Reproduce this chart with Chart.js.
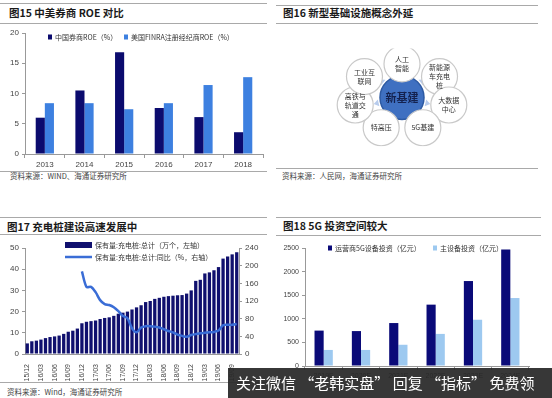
<!DOCTYPE html>
<html>
<head>
<meta charset="utf-8">
<script src="https://cdn.jsdelivr.net/npm/chart.js@4.4.1/dist/chart.umd.min.js"></script>
<style>
  body { margin: 0; width: 552px; height: 398px; background: #fff; position: relative; overflow: hidden; font-family: "Noto Sans CJK SC", sans-serif; }
  canvas { position: absolute; }
  .rule { position: absolute; height: 0; border-top: 1.5px solid #a9a9a9; }
  .title { position: absolute; font-size: 10.5px; font-weight: bold; color: #1a1a1a; white-space: nowrap; line-height: 1; }
  .src { position: absolute; font-size: 7.5px; color: #444; white-space: nowrap; line-height: 1; }
  #banner { position: absolute; left: 228px; top: 368px; width: 324px; height: 30px; background: rgba(40,40,40,0.93); color: #fff; font-size: 15px; line-height: 30px; padding-left: 8px; box-sizing: border-box; white-space: nowrap; }
</style>
</head>
<body>

<div class="rule" style="left:0;top:3px;width:267px"></div>
<div class="title" style="left:9px;top:8px">图15 中美券商 ROE 对比</div>
<div class="rule" style="left:0;top:23px;width:267px"></div>
<div class="rule" style="left:0;top:171px;width:267px"></div>
<div class="src" style="left:10px;top:172px">资料来源：WIND、海通证券研究所</div>

<div class="rule" style="left:276px;top:5px;width:262px"></div>
<div class="title" style="left:283px;top:8px">图16 新型基础设施概念外延</div>
<div class="rule" style="left:276px;top:23px;width:262px"></div>
<div class="rule" style="left:276px;top:168px;width:262px"></div>
<div class="src" style="left:282px;top:172px">资料来源：人民网，海通证券研究所</div>

<div class="rule" style="left:0;top:217px;width:267px"></div>
<div class="title" style="left:7px;top:222px">图17 充电桩建设高速发展中</div>
<div class="rule" style="left:0;top:234px;width:267px"></div>
<div class="rule" style="left:0;top:382px;width:267px"></div>
<div class="src" style="left:7px;top:388px">资料来源：Wind，海通证券研究所</div>

<div class="rule" style="left:276px;top:217px;width:265px"></div>
<div class="title" style="left:283px;top:221px">图18 5G 投资空间较大</div>
<div class="rule" style="left:276px;top:235px;width:265px"></div>

<canvas id="roeChart" width="270" height="150" style="left:0;top:25px"></canvas>
<canvas id="conceptChart" width="262" height="145" style="left:276px;top:25px"></canvas>
<canvas id="pileChart" width="270" height="150" style="left:0;top:235px"></canvas>
<canvas id="fiveGChart" width="270" height="150" style="left:276px;top:235px"></canvas>

<div id="banner">关注微信 “老韩实盘” 回复 “指标” 免费领</div>

<script>
// fig 15
var roeYears = ['2013', '2014', '2015', '2016', '2017', '2018'];
var roeChina = [6.0, 10.5, 16.8, 7.6, 6.1, 3.6];
var roeUS = [8.4, 8.4, 7.4, 8.4, 11.4, 12.7];

// fig 16
var hubLabel = '新基建';
var conceptNodes = ['人工\n智能', '新能源\n车充电\n桩', '大数据\n中心', '5G基建', '特高压', '高铁与\n轨道交\n通', '工业互\n联网'];

// fig 17
var pileMonths = ['15/12',
    '16/01', '16/02', '16/03', '16/04', '16/05', '16/06', '16/07', '16/08', '16/09', '16/10', '16/11', '16/12',
    '17/01', '17/02', '17/03', '17/04', '17/05', '17/06', '17/07', '17/08', '17/09', '17/10', '17/11', '17/12',
    '18/01', '18/02', '18/03', '18/04', '18/05', '18/06', '18/07', '18/08', '18/09', '18/10', '18/11', '18/12',
    '19/01', '19/02', '19/03', '19/04', '19/05', '19/06', '19/07', '19/08', '19/09', '19/10'];
var pileTotal = [5.0,
    6.0, 6.3, 6.8, 7.5, 8.0, 8.3, 8.7, 9.5, 10.5, 11.0, 12.0, 14.5,
    15.2, 15.5, 15.8, 16.5, 17.0, 17.3, 18.0, 19.0, 19.5, 20.0, 21.0, 22.0,
    23.0, 24.5, 25.0, 26.0, 26.5, 27.0, 27.3, 27.5, 27.7, 27.8, 28.5, 30.0,
    34.5, 35.0, 38.0, 38.5, 39.5, 41.0, 45.0, 46.0, 47.0, 48.0];
var pileYoY = [null,
    null, null, null, null, null, null, null, null, null, null, null, 187,
    152, 152, 140, 122, 113, 111, 106, 97, 86, 81, 58, 49,
    60, 63, 63, 62, 60, 56, 52, 49, 44, 41, 39, 43,
    45, 47, 48, 49, 50, 53, 65, 66, 66, 68];

// fig 18
var invYears = ['2019E', '2020E', '2021E', '2022E', '2023E', '2024E'];
var invOperator = [750, 740, 910, 1300, 1800, 2470];
var invMainGear = [340, 340, 450, 680, 980, 1440];

Chart.defaults.animation = false;
Chart.defaults.font.family = '"Liberation Sans", Arial, sans-serif';
Chart.defaults.font.size = 8;
Chart.defaults.color = '#444';

var innerLegend = {
    id: 'innerLegend',
    afterDraw: function (chart, args, opts) {
        var ctx = chart.ctx;
        var sets = chart.data.datasets;
        ctx.save();
        ctx.font = opts.font;
        ctx.textBaseline = 'middle';
        for (var i = 0; i < sets.length; i++) {
            var p = opts.spots[i];
            if (sets[i].type === 'line') {
                ctx.strokeStyle = sets[i].borderColor;
                ctx.lineWidth = 2.5;
                ctx.beginPath();
                ctx.moveTo(p[0], p[1]);
                ctx.lineTo(p[0] + opts.boxW, p[1]);
                ctx.stroke();
            } else {
                ctx.fillStyle = sets[i].backgroundColor;
                ctx.fillRect(p[0], p[1] - opts.boxH / 2, opts.boxW, opts.boxH);
            }
            ctx.fillStyle = '#333';
            ctx.fillText(sets[i].label, p[0] + opts.boxW + 3, p[1]);
        }
        ctx.restore();
    }
};

function fixWidth(w) {
    return function (scale) { scale.width = w; };
}
function fixHeight(h) {
    return function (scale) { scale.height = h; };
}
function plainNum(v) {
    return String(v);
}

// ---------- fig 15 ----------
new Chart(document.getElementById('roeChart'), {
    type: 'bar',
    data: {
        labels: roeYears,
        datasets: [
            { label: '中国券商ROE（%）', data: roeChina, backgroundColor: '#0b0b6e' },
            { label: '美国FINRA注册经纪商ROE（%）', data: roeUS, backgroundColor: '#3d80e0' }
        ]
    },
    options: {
        responsive: false,
        events: [],
        layout: { padding: { top: 8, right: 7, left: 0, bottom: 0 } },
        datasets: { bar: { categoryPercentage: 0.46, barPercentage: 1 } },
        scales: {
            x: {
                afterFit: fixHeight(21),
                grid: { display: true, drawOnChartArea: false, tickLength: 4, color: '#999' },
                border: { color: '#999' },
                ticks: { padding: 2, font: { size: 8 } }
            },
            y: {
                min: 0, max: 20,
                afterFit: fixWidth(25),
                grid: { display: true, drawOnChartArea: false, tickLength: 3, color: '#999' },
                border: { color: '#999' },
                ticks: { stepSize: 5, padding: 3, font: { size: 8 }, callback: plainNum }
            }
        },
        plugins: {
            legend: { display: false },
            tooltip: { enabled: false },
            innerLegend: { font: '7px "Noto Sans CJK SC"', boxW: 4, boxH: 5, spots: [[48, 12], [124, 12]] }
        }
    },
    plugins: [innerLegend]
});

// ---------- fig 16 ----------
var spokes = {
    id: 'spokes',
    beforeDatasetsDraw: function (chart) {
        var ctx = chart.ctx;
        var cx = chart.scales.x.getPixelForValue(0);
        var cy = chart.scales.y.getPixelForValue(0);
        ctx.save();
        ctx.fillStyle = '#b7cbec';
        for (var i = 0; i < conceptNodes.length; i++) {
            var a = Math.PI / 2 - i * 2 * Math.PI / conceptNodes.length;
            var dx = Math.cos(a), dy = -Math.sin(a);
            var r0 = 24, r1 = 29;
            ctx.beginPath();
            ctx.moveTo(cx + dx * r1, cy + dy * r1);
            ctx.lineTo(cx + dx * r0 - dy * 3.5, cy + dy * r0 + dx * 3.5);
            ctx.lineTo(cx + dx * r0 + dy * 3.5, cy + dy * r0 - dx * 3.5);
            ctx.closePath();
            ctx.fill();
        }
        ctx.restore();
    }
};

var nodeText = {
    id: 'nodeText',
    afterDatasetsDraw: function (chart) {
        var ctx = chart.ctx;
        var pts = chart.getDatasetMeta(0).data;
        ctx.save();
        ctx.textAlign = 'center';
        ctx.textBaseline = 'middle';
        for (var i = 0; i < pts.length; i++) {
            var txt = i === 0 ? hubLabel : conceptNodes[i - 1];
            var lines = txt.split('\n');
            var lh = i === 0 ? 12 : 9;
            ctx.font = i === 0 ? 'bold 11px "Noto Sans CJK SC"' : '7px "Noto Sans CJK SC"';
            ctx.fillStyle = i === 0 ? '#14224f' : '#333';
            var y0 = pts[i].y - (lines.length - 1) * lh / 2;
            for (var k = 0; k < lines.length; k++) {
                ctx.fillText(lines[k], pts[i].x, y0 + k * lh);
            }
        }
        ctx.restore();
    }
};

var ring = 48;
var conceptPts = [{ x: 0, y: 0 }];
for (var n = 0; n < conceptNodes.length; n++) {
    var ang = Math.PI / 2 - n * 2 * Math.PI / conceptNodes.length;
    conceptPts.push({ x: ring * Math.cos(ang), y: ring * Math.sin(ang) });
}

new Chart(document.getElementById('conceptChart'), {
    type: 'scatter',
    data: {
        datasets: [{
            data: conceptPts,
            pointRadius: function (c) { return c.dataIndex === 0 ? 22 : 18; },
            pointBackgroundColor: function (c) { return c.dataIndex === 0 ? '#3f70c1' : '#ffffff'; },
            pointBorderColor: function (c) { return c.dataIndex === 0 ? '#2d5aa3' : '#c9c9c9'; },
            pointBorderWidth: function (c) { return c.dataIndex === 0 ? 1.5 : 1.2; }
        }]
    },
    options: {
        responsive: false,
        events: [],
        layout: { padding: { left: 26, right: 36, top: 3, bottom: 2 } },
        scales: {
            x: { display: false, min: -100, max: 100 },
            y: { display: false, min: -70, max: 70 }
        },
        plugins: { legend: { display: false }, tooltip: { enabled: false } }
    },
    plugins: [spokes, nodeText]
});

// ---------- fig 17 ----------
new Chart(document.getElementById('pileChart'), {
    type: 'bar',
    data: {
        labels: pileMonths,
        datasets: [
            { type: 'bar', label: '保有量:充电桩:总计（万个，左轴）', data: pileTotal, backgroundColor: '#10106e', yAxisID: 'y', order: 2, barPercentage: 0.72, categoryPercentage: 1 },
            { type: 'line', label: '保有量:充电桩:总计:同比（%，右轴）', data: pileYoY, borderColor: '#3a6dd6', borderWidth: 2.5, pointRadius: 0, tension: 0.3, yAxisID: 'y1', order: 1 }
        ]
    },
    options: {
        responsive: false,
        events: [],
        layout: { padding: { top: 13, right: 0, left: 0, bottom: 0 } },
        scales: {
            x: {
                afterFit: fixHeight(31),
                grid: { display: false },
                border: { color: '#999' },
                ticks: {
                    autoSkip: false, minRotation: 90, maxRotation: 90, padding: 2,
                    font: { size: 7 },
                    callback: function (v, i) { return i % 3 === 0 ? this.getLabelForValue(v) : ''; }
                }
            },
            y: {
                position: 'left',
                min: 0, max: 50,
                afterFit: fixWidth(25),
                grid: { display: true, drawOnChartArea: false, tickLength: 3, color: '#999' },
                border: { color: '#999' },
                ticks: { stepSize: 10, padding: 3, font: { size: 8 }, callback: plainNum }
            },
            y1: {
                position: 'right',
                min: 0, max: 240,
                afterFit: fixWidth(31),
                grid: { display: true, drawOnChartArea: false, tickLength: 3, color: '#999' },
                border: { color: '#999' },
                ticks: { stepSize: 40, padding: 3, font: { size: 8 }, callback: plainNum }
            }
        },
        plugins: {
            legend: { display: false },
            tooltip: { enabled: false },
            innerLegend: { font: '7px "Noto Sans CJK SC"', boxW: 27, boxH: 6, spots: [[65, 10], [65, 22]] }
        }
    },
    plugins: [innerLegend]
});

// ---------- fig 18 ----------
new Chart(document.getElementById('fiveGChart'), {
    type: 'bar',
    data: {
        labels: invYears,
        datasets: [
            { label: '运营商5G设备投资（亿元）', data: invOperator, backgroundColor: '#0a0a78' },
            { label: '主设备投资（亿元）', data: invMainGear, backgroundColor: '#9dc9f0' }
        ]
    },
    options: {
        responsive: false,
        events: [],
        layout: { padding: { top: 13, right: 17, left: 0, bottom: 0 } },
        datasets: { bar: { categoryPercentage: 0.49, barPercentage: 1 } },
        scales: {
            x: {
                afterFit: fixHeight(19),
                grid: { display: true, drawOnChartArea: false, tickLength: 4, color: '#999' },
                border: { color: '#999' },
                ticks: { padding: 2, font: { size: 7 } }
            },
            y: {
                min: 0, max: 2500,
                afterFit: fixWidth(29),
                grid: { display: true, drawOnChartArea: false, tickLength: 3, color: '#999' },
                border: { color: '#999' },
                ticks: { stepSize: 500, padding: 3, font: { size: 7 }, callback: plainNum }
            }
        },
        plugins: {
            legend: { display: false },
            tooltip: { enabled: false },
            innerLegend: { font: '7px "Noto Sans CJK SC"', boxW: 4, boxH: 5, spots: [[52, 13], [157, 13]] }
        }
    },
    plugins: [innerLegend]
});
</script>
</body>
</html>
